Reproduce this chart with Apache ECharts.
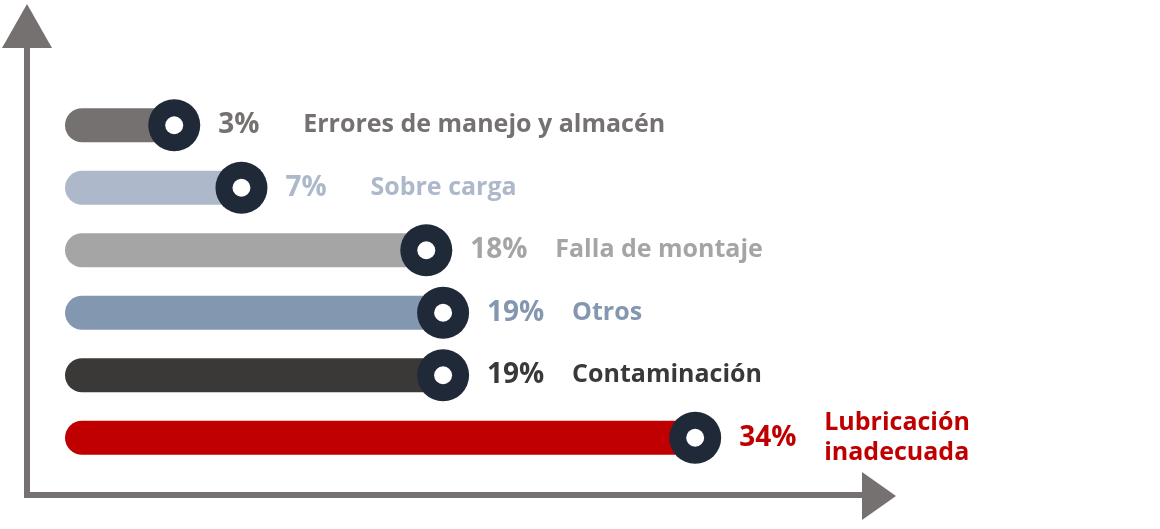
<!DOCTYPE html>
<html><head><meta charset="utf-8">
<script src="https://cdn.jsdelivr.net/npm/echarts@6/dist/echarts.min.js"></script>
<style>html,body{margin:0;padding:0;background:#fff}#c{width:1160px;height:529px}</style>
</head><body><div id="c"></div>
<script>
const categories = ['Errores de manejo y almacén','Sobre carga','Falla de montaje','Otros','Contaminación','Lubricación\ninadecuada'];
const values = [3,7,18,19,19,34];
const colors = ['#767171','#adb9ca','#a5a5a5','#8497b0','#3b3838','#c00000'];
const chart = echarts.init(document.getElementById('c'));
const font = '"Open Sans", sans-serif';
const XMIN = -3.5;
chart.setOption({
  animation:false,
  grid:{left:65,top:94,height:375,width:731},
  xAxis:{type:'value',min:XMIN,max:40,show:false},
  yAxis:{type:'category',data:categories,inverse:true,show:false},
  series:[
    {type:'custom',z:2,data:values.map((v,i)=>[v,i]),
     renderItem:(params,api)=>{
       const i=api.value(1), a=api.coord([XMIN,i]), b=api.coord([api.value(0),i]);
       return {type:'rect',shape:{x:a[0],y:a[1]-17,width:b[0]-a[0],height:34,r:17},style:{fill:colors[params.dataIndex]}};
     }},
    {type:'scatter',symbolSize:52,data:values.map((v,i)=>[v,i]),itemStyle:{color:'#1f2937',opacity:1},z:3,
     label:{show:true,position:'right',distance:18,fontFamily:font,fontSize:28,fontWeight:'bold',
       formatter:p=>values[p.dataIndex]+'%',color:'inherit'},
     },
    {type:'scatter',symbolSize:18,data:values.map((v,i)=>[v,i]),itemStyle:{color:'#fff',opacity:1},z:4,silent:true,
     label:{show:true,position:'right',distance:120,fontFamily:font,fontSize:25,fontWeight:'bold',lineHeight:30,
       formatter:p=>categories[p.dataIndex]}}
  ],
  graphic:[
    {type:'line',shape:{x1:27,y1:46,x2:27,y2:497},style:{stroke:'#767171',lineWidth:6}},
    {type:'line',shape:{x1:24,y1:495,x2:866,y2:495},style:{stroke:'#767171',lineWidth:6}},
    {type:'polygon',shape:{points:[[27,4],[2,48],[52,48]]},style:{fill:'#767171'}},
    {type:'polygon',shape:{points:[[896,496],[862,472],[862,520]]},style:{fill:'#767171'}}
  ]
});
chart.setOption({series:[{},
  {data:values.map((v,i)=>({value:[v,i],label:{color:colors[i]}}))},
  {data:values.map((v,i)=>({value:[v,i],label:{color:colors[i]}}))}]});
</script></body></html>
